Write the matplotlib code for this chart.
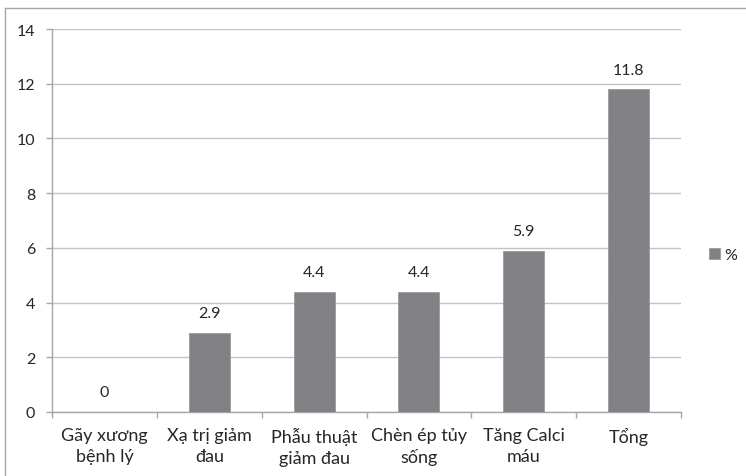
import textwrap
import matplotlib
matplotlib.use("Agg")
import matplotlib.pyplot as plt
from matplotlib.lines import Line2D

plt.rcParams['font.family'] = ['Lato', 'Open Sans', 'DejaVu Sans']

categories = ["Gãy xương bệnh lý", "Xạ trị giảm đau", "Phẫu thuật giảm đau",
              "Chèn ép tủy sống", "Tăng Calci máu", "Tổng"]
values = [0, 2.9, 4.4, 4.4, 5.9, 11.8]
series_name = "%"
y_ticks = [0, 2, 4, 6, 8, 10, 12, 14]

bar_color = "#808085"
grid_color = "#c4c4c4"
axis_color = "#a6a6a6"
text_color = "#262626"

fig = plt.figure(figsize=(7.46, 4.77), dpi=100)
ax = fig.add_axes([0.0697, 0.1342, 0.9129 - 0.0697, 0.9371 - 0.1342])

x = list(range(len(categories)))
ax.bar(x, values, width=0.39, color=bar_color, edgecolor="#9a9a9e",
       linewidth=0.6, label=series_name, zorder=3)

for xi, v in zip(x, values):
    ax.annotate(f"{v:g}", (xi, v), xytext=(0, 9), textcoords="offset points",
                ha="center", va="bottom", fontsize=11.5, color=text_color)

ax.set_xlim(-0.5, len(categories) - 0.5)
ax.set_ylim(0, 14)
ax.set_yticks(y_ticks)
ax.set_yticklabels([str(t) for t in y_ticks], fontsize=11.5, color=text_color)
ax.yaxis.grid(True, color=grid_color, linewidth=1.0, zorder=0)

ax.set_xticks(x)
ax.set_xticklabels([textwrap.fill(c, 11) for c in categories], fontsize=13,
                   color=text_color, linespacing=1.35)
ax.tick_params(axis="x", length=0, pad=11)
# category separators on the horizontal axis
ax.set_xticks([i - 0.5 for i in range(len(categories) + 1)], minor=True)
ax.tick_params(axis="x", which="minor", length=4, width=1, color=axis_color,
               direction="out")
ax.tick_params(axis="y", length=4, width=1, color=axis_color, pad=8)

for side in ("top", "right"):
    ax.spines[side].set_visible(False)
for side in ("left", "bottom"):
    ax.spines[side].set_color(axis_color)
    ax.spines[side].set_linewidth(1.0)

ax.legend(loc="center left", bbox_to_anchor=(0.950, 0.463),
          bbox_transform=fig.transFigure, frameon=False, fontsize=11.5,
          borderpad=0, borderaxespad=0,
          handlelength=0.7, handleheight=0.7, handletextpad=0.3,
          labelcolor=text_color)

# chart area frame (left and top edges)
fig.add_artist(Line2D([0.0067, 0.0067], [0.0, 0.981], transform=fig.transFigure,
                      color=axis_color, linewidth=1.0))
fig.add_artist(Line2D([0.0067, 1.0], [0.981, 0.981], transform=fig.transFigure,
                      color=axis_color, linewidth=1.0))

fig.savefig("out.png", dpi=100, facecolor="white")
